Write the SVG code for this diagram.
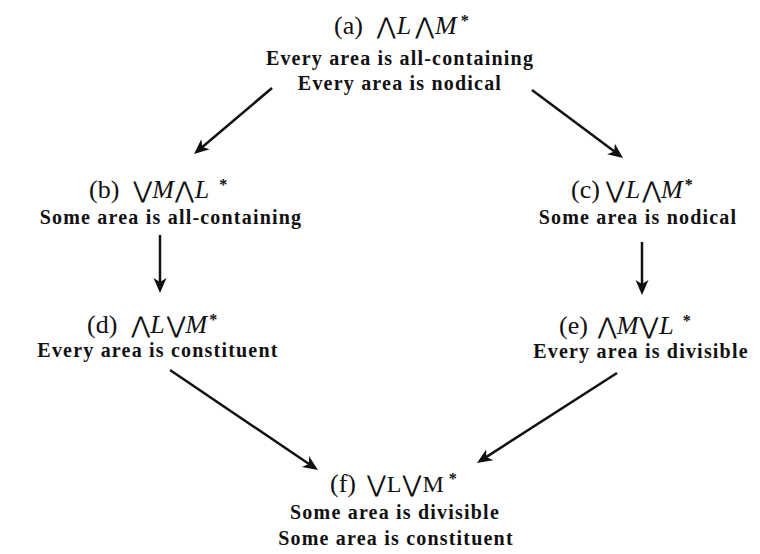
<svg xmlns="http://www.w3.org/2000/svg" width="760" height="554" viewBox="0 0 760 554">
  <style>
    .line { font-family: "Liberation Serif", "Times New Roman", serif; font-size: 20px; font-weight: bold; letter-spacing: 1.2px; fill: #111; text-anchor: middle; }
    .lbl { font-family: "Liberation Serif", "Times New Roman", serif; font-size: 26px; fill: #111; }
    .op { font-family: "DejaVu Sans", sans-serif; font-size: 23px; fill: #111; }
    .var { font-family: "Liberation Serif", "Times New Roman", serif; font-size: 26px; font-style: italic; fill: #111; }
    .rom { font-family: "Liberation Serif", "Times New Roman", serif; font-size: 24px; fill: #111; }
    .star { font-family: "Liberation Serif", "Times New Roman", serif; font-size: 16px; font-weight: bold; fill: #111; }
    .conn line { stroke: #111; stroke-width: 2.5; marker-end: url(#head); }
  </style>
  <defs>
    <marker id="head" viewBox="-8 -8 18 16" refX="0" refY="0" markerWidth="18" markerHeight="16" markerUnits="userSpaceOnUse" orient="auto">
      <path d="M9,0 L-6,-6.5 L-2,0 L-6,6.5 Z" fill="#111"/>
    </marker>
  </defs>
  <rect width="760" height="554" fill="#fff"/>

  <!-- node a -->
  <g id="node-a">
    <text x="334" y="34"><tspan class="lbl">(a)</tspan><tspan class="op" dx="14">⋀</tspan><tspan class="var" dx="1">L</tspan><tspan class="op" dx="4">⋀</tspan><tspan class="var" dx="1">M</tspan><tspan class="star" dx="4" dy="-8">*</tspan></text>
    <text class="line" x="400" y="65">Every area is all-containing</text>
    <text class="line" x="400" y="90">Every area is nodical</text>
  </g>

  <!-- node b -->
  <g id="node-b">
    <text x="89" y="198"><tspan class="lbl">(b)</tspan><tspan class="op" dx="14">⋁</tspan><tspan class="var" dx="0">M</tspan><tspan class="op" dx="1">⋀</tspan><tspan class="var" dx="1">L</tspan><tspan class="star" dx="10" dy="-8">*</tspan></text>
    <text class="line" x="171" y="224">Some area is all-containing</text>
  </g>

  <!-- node c -->
  <g id="node-c">
    <text x="571" y="198"><tspan class="lbl">(c)</tspan><tspan class="op" dx="6">⋁</tspan><tspan class="var" dx="1">L</tspan><tspan class="op" dx="2">⋀</tspan><tspan class="var" dx="0">M</tspan><tspan class="star" dx="2" dy="-8">*</tspan></text>
    <text class="line" x="638" y="224">Some area is nodical</text>
  </g>

  <!-- node d -->
  <g id="node-d">
    <text x="87" y="333"><tspan class="lbl">(d)</tspan><tspan class="op" dx="14">⋀</tspan><tspan class="var" dx="0">L</tspan><tspan class="op" dx="2">⋁</tspan><tspan class="var" dx="0">M</tspan><tspan class="star" dx="2" dy="-8">*</tspan></text>
    <text class="line" x="158" y="357">Every area is constituent</text>
  </g>

  <!-- node e -->
  <g id="node-e">
    <text x="559" y="334"><tspan class="lbl">(e)</tspan><tspan class="op" dx="10">⋀</tspan><tspan class="var" dx="0">M</tspan><tspan class="op" dx="1">⋁</tspan><tspan class="var" dx="1">L</tspan><tspan class="star" dx="9" dy="-8">*</tspan></text>
    <text class="line" x="641" y="358">Every area is divisible</text>
  </g>

  <!-- node f -->
  <g id="node-f">
    <text x="330" y="492"><tspan class="lbl">(f)</tspan><tspan class="op" dx="11">⋁</tspan><tspan class="rom" dx="1">L</tspan><tspan class="op" dx="1">⋁</tspan><tspan class="rom" dx="1">M</tspan><tspan class="star" dx="5" dy="-8">*</tspan></text>
    <text class="line" x="395" y="519">Some area is divisible</text>
    <text class="line" x="396" y="545">Some area is constituent</text>
  </g>

  <!-- implications -->
  <g id="connectors" class="conn">
    <line x1="272" y1="88" x2="200.9" y2="148.2"/>
    <line x1="532" y1="90" x2="615.8" y2="152.6"/>
    <line x1="160" y1="235" x2="160" y2="284"/>
    <line x1="642" y1="242" x2="642" y2="286"/>
    <line x1="170" y1="370" x2="310.5" y2="465"/>
    <line x1="617" y1="373" x2="484.6" y2="458.1"/>
  </g>
</svg>
